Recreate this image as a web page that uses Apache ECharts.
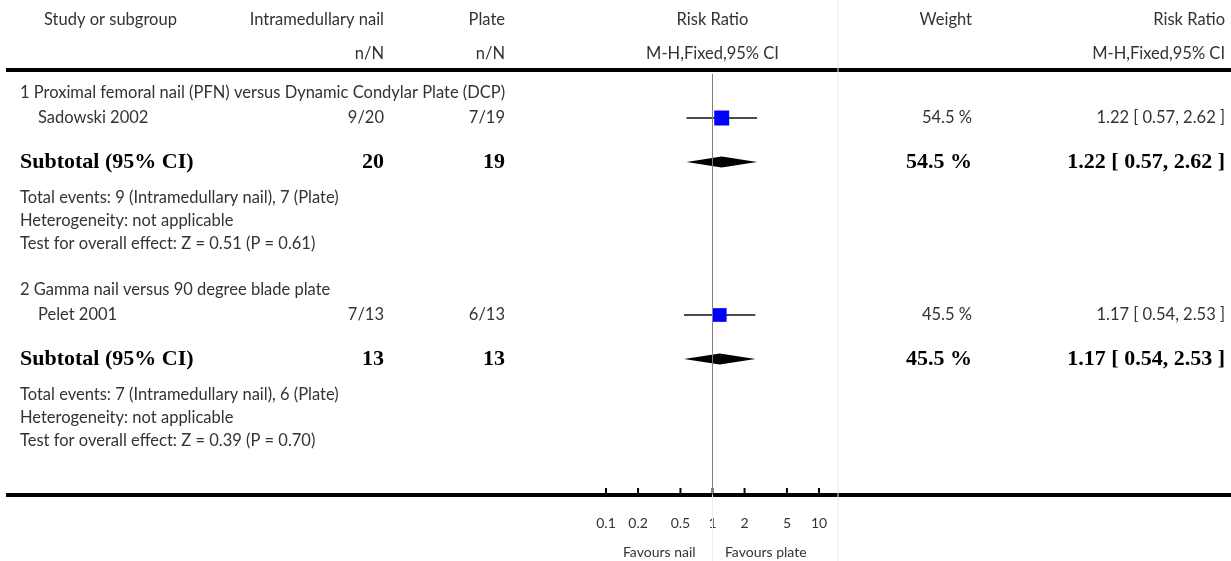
<!DOCTYPE html>
<html>
<head>
<meta charset="utf-8">
<style>
html, body { margin: 0; padding: 0; background: #fff; }
#chart { width: 1231px; height: 561px; }
</style>
<script src="https://cdn.jsdelivr.net/npm/echarts@6/dist/echarts.min.js"></script>
</head>
<body>
<div id="chart"></div>
<script>
// ── data ──
const groupTitles = [
	'1 Proximal femoral nail (PFN) versus Dynamic Condylar Plate (DCP)',
	'2 Gamma nail versus 90 degree blade plate',
]
const studyNames = ['Sadowski 2002', 'Pelet 2001']
const studyGroup = [0, 1]
const nailEvents = [9, 7]
const nailTotal = [20, 13]
const plateEvents = [7, 6]
const plateTotal = [19, 13]
const studyRR = [1.22, 1.17]
const studyLow = [0.57, 0.54]
const studyHigh = [2.62, 2.53]
const studyWeight = [54.5, 45.5]

const subNailTotal = [20, 13]
const subPlateTotal = [19, 13]
const subNailEvents = [9, 7]
const subPlateEvents = [7, 6]
const subRR = [1.22, 1.17]
const subLow = [0.57, 0.54]
const subHigh = [2.62, 2.53]
const subWeight = [54.5, 45.5]
const subZ = ['0.51', '0.39']
const subP = ['0.61', '0.70']

const tickValues = [0.1, 0.2, 0.5, 1, 2, 5, 10]
const tickLabels = ['0.1', '0.2', '0.5', '1', '2', '5', '10']
const favourLabels = ['Favours nail', 'Favours plate']

// ── layout ──
const W = 1231, H = 561
const COL = { group: 20, study: 38, head: 44, nail: 384, plate: 505, weight: 972, ci: 1225, sep: 838 }
const PLOT = { left: 606, right: 819 }
const FONT = '16.5px Lato, "Noto Sans", sans-serif'
const BOLD = 'bold 22px "Liberation Serif", serif'
const SMALL = '14px Lato, "Noto Sans", sans-serif'
const INK = '#333'

const fmt = (v) => v.toFixed(2)
const ciText = (r, l, h) => `${fmt(r)} [ ${fmt(l)}, ${fmt(h)} ]`

const cells = []      // table text (x in px columns)
const plotCells = []  // text centred on the risk-ratio scale
const squares = []
const whiskers = []
const diamonds = []
function put(x, y, text, align, font, color) {
	cells.push({ x, y, text, align, font: font || FONT, color: color || INK })
}

// header
const yH1 = 20, yH2 = 54, yTopRule = 70
put(COL.head, yH1, 'Study or subgroup', 'left')
put(COL.nail, yH1, 'Intramedullary nail', 'right')
put(COL.nail, yH2, 'n/N', 'right')
put(COL.plate, yH1, 'Plate', 'right')
put(COL.plate, yH2, 'n/N', 'right')
plotCells.push({ v: 1, y: yH1, text: 'Risk Ratio', font: FONT })
plotCells.push({ v: 1, y: yH2, text: 'M-H,Fixed,95% CI', font: FONT })
put(COL.weight, yH1, 'Weight', 'right')
put(COL.ci, yH1, 'Risk Ratio', 'right')
put(COL.ci, yH2, 'M-H,Fixed,95% CI', 'right')

let y = yTopRule
groupTitles.forEach((title, g) => {
	y += g === 0 ? 23 : 46
	put(COL.group, y, title, 'left')
	studyNames.forEach((name, i) => {
		if (studyGroup[i] !== g) return
		y += 25
		put(COL.study, y, name, 'left')
		put(COL.nail, y, `${nailEvents[i]}/${nailTotal[i]}`, 'right')
		put(COL.plate, y, `${plateEvents[i]}/${plateTotal[i]}`, 'right')
		put(COL.weight, y, `${studyWeight[i]} %`, 'right')
		put(COL.ci, y, ciText(studyRR[i], studyLow[i], studyHigh[i]), 'right')
		whiskers.push([studyLow[i], studyHigh[i], y, studyRR[i]])
		squares.push({ value: [studyRR[i], y], symbolSize: 15 * Math.sqrt(studyWeight[i] / Math.max(...studyWeight)) })
	})
	y += 44
	put(COL.group, y, 'Subtotal (95% CI)', 'left', BOLD, '#000')
	put(COL.nail, y, String(subNailTotal[g]), 'right', BOLD, '#000')
	put(COL.plate, y, String(subPlateTotal[g]), 'right', BOLD, '#000')
	put(COL.weight, y, `${subWeight[g]} %`, 'right', BOLD, '#000')
	put(COL.ci, y, ciText(subRR[g], subLow[g], subHigh[g]), 'right', BOLD, '#000')
	diamonds.push([subLow[g], subRR[g], subHigh[g], y])
	y += 36
	put(COL.group, y, `Total events: ${subNailEvents[g]} (Intramedullary nail), ${subPlateEvents[g]} (Plate)`, 'left')
	y += 23
	put(COL.group, y, 'Heterogeneity: not applicable', 'left')
	y += 23
	put(COL.group, y, `Test for overall effect: Z = ${subZ[g]} (P = ${subP[g]})`, 'left')
})
const yBottomRule = y + 54
const yTickLabel = yBottomRule + 28
const yFavour = yBottomRule + 57
plotCells.push({ v: Math.sqrt(tickValues[0] * 1), y: yFavour, text: favourLabels[0], font: SMALL })
plotCells.push({ v: Math.sqrt(tickValues[tickValues.length - 1] * 1), y: yFavour, text: favourLabels[1], font: SMALL })

const chart = echarts.init(document.getElementById('chart'), null, { renderer: 'canvas' })

const hidden = { show: false }
const option = {
	animation: false,
	backgroundColor: '#fff',
	grid: [
		{ left: 0, right: 0, top: 0, bottom: 0 },
		{ left: PLOT.left, right: W - PLOT.right, top: 0, bottom: 0 },
	],
	xAxis: [
		{ gridIndex: 0, type: 'value', min: 0, max: W, ...hidden },
		{ gridIndex: 1, type: 'log', logBase: 10, min: 0.1, max: 10, ...hidden },
	],
	yAxis: [
		{ gridIndex: 0, type: 'value', min: 0, max: H, inverse: true, ...hidden },
		{ gridIndex: 1, type: 'value', min: 0, max: H, inverse: true, ...hidden },
	],
	series: [
		// light column separator
		{
			type: 'line', xAxisIndex: 0, yAxisIndex: 0, silent: true, symbol: 'none',
			data: [[COL.sep, 0], [COL.sep, H]],
			lineStyle: { color: '#ececec', width: 1 },
		},
		// faint divider under the line of no effect
		{
			type: 'line', xAxisIndex: 1, yAxisIndex: 1, silent: true, symbol: 'none',
			data: [[1, yBottomRule], [1, H]],
			lineStyle: { color: '#ececec', width: 1 },
		},
		// line of no effect
		{
			type: 'line', xAxisIndex: 1, yAxisIndex: 1, silent: true, symbol: 'none',
			data: [[1, yTopRule + 4], [1, yBottomRule]],
			lineStyle: { color: '#808080', width: 1 },
		},
		// thick rules
		{
			type: 'custom', xAxisIndex: 0, yAxisIndex: 0, silent: true,
			data: [[6, yTopRule], [6, yBottomRule]],
			renderItem: (params, api) => {
				const a = api.coord([api.value(0), api.value(1)])
				const b = api.coord([W, api.value(1)])
				return { type: 'line', shape: { x1: a[0], y1: a[1], x2: b[0], y2: b[1] }, style: { stroke: '#000', lineWidth: 4 } }
			},
		},
		// table text
		{
			type: 'custom', xAxisIndex: 0, yAxisIndex: 0, silent: true,
			data: cells.map(c => [c.x, c.y]),
			renderItem: (params, api) => {
				const c = cells[params.dataIndex]
				const p = api.coord([api.value(0), api.value(1)])
				return {
					type: 'text', x: p[0], y: p[1],
					style: { text: c.text, font: c.font, fill: c.color, align: c.align, verticalAlign: 'middle' },
				}
			},
		},
		// text centred on the ratio scale
		{
			type: 'custom', xAxisIndex: 1, yAxisIndex: 1, silent: true,
			data: plotCells.map(c => [c.v, c.y]),
			renderItem: (params, api) => {
				const c = plotCells[params.dataIndex]
				const p = api.coord([api.value(0), api.value(1)])
				return {
					type: 'text', x: p[0], y: p[1],
					style: { text: c.text, font: c.font, fill: INK, align: 'center', verticalAlign: 'middle' },
				}
			},
		},
		// CI whiskers
		{
			type: 'custom', xAxisIndex: 1, yAxisIndex: 1, silent: true,
			data: whiskers,
			renderItem: (params, api) => {
				const a = api.coord([api.value(0), api.value(2)])
				const b = api.coord([api.value(1), api.value(2)])
				return { type: 'line', shape: { x1: a[0], y1: a[1], x2: b[0], y2: b[1] }, style: { stroke: '#111', lineWidth: 1.5 } }
			},
		},
		// study squares
		{
			type: 'scatter', xAxisIndex: 1, yAxisIndex: 1, silent: true,
			symbol: 'rect',
			data: squares,
			itemStyle: { color: '#0000ff', opacity: 1 },
		},
		// point-estimate marks on squares
		{
			type: 'custom', xAxisIndex: 1, yAxisIndex: 1, silent: true,
			data: whiskers,
			renderItem: (params, api) => {
				const c = api.coord([api.value(3), api.value(2)])
				return {
					type: 'group', children: [
						{ type: 'line', shape: { x1: c[0] - 2, y1: c[1], x2: c[0] + 2, y2: c[1] }, style: { stroke: '#222', lineWidth: 1 } },
						{ type: 'line', shape: { x1: c[0], y1: c[1] - 2, x2: c[0], y2: c[1] + 2 }, style: { stroke: '#222', lineWidth: 1 } },
					],
				}
			},
		},
		// subtotal diamonds
		{
			type: 'custom', xAxisIndex: 1, yAxisIndex: 1, silent: true,
			data: diamonds,
			renderItem: (params, api) => {
				const yy = api.value(3)
				const l = api.coord([api.value(0), yy])
				const m = api.coord([api.value(1), yy])
				const r = api.coord([api.value(2), yy])
				const h = 5.5
				return {
					type: 'polygon',
					shape: { points: [[l[0], l[1]], [m[0], m[1] - h], [r[0], r[1]], [m[0], m[1] + h]] },
					style: { fill: '#000' },
				}
			},
		},
		// axis ticks and labels
		{
			type: 'custom', xAxisIndex: 1, yAxisIndex: 1, silent: true,
			data: tickValues.map(v => [v, yBottomRule]),
			renderItem: (params, api) => {
				const p = api.coord([api.value(0), api.value(1)])
				const lp = api.coord([api.value(0), yTickLabel])
				return {
					type: 'group', children: [
						{ type: 'line', shape: { x1: p[0], y1: p[1] - 7, x2: p[0], y2: p[1] }, style: { stroke: '#000', lineWidth: 2 } },
						{
							type: 'text', x: lp[0], y: lp[1],
							style: { text: tickLabels[params.dataIndex], font: SMALL, fill: INK, align: 'center', verticalAlign: 'middle' },
						},
					],
				}
			},
		},
	],
}
chart.setOption(option)
</script>
</body>
</html>
